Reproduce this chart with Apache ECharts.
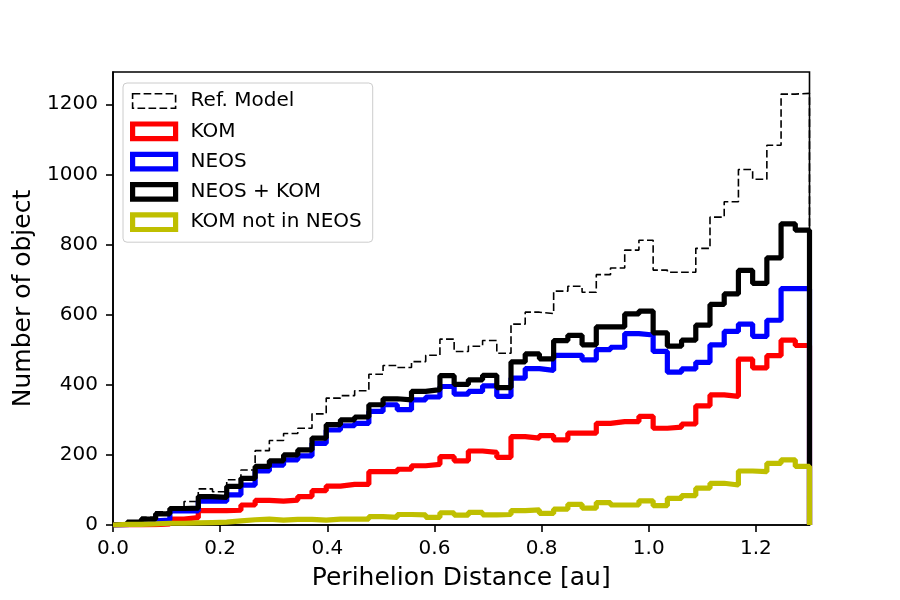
<!DOCTYPE html>
<html>
<head>
<meta charset="utf-8">
<script src="https://cdn.jsdelivr.net/npm/echarts@6/dist/echarts.min.js"></script>
<style>
  html, body { margin: 0; padding: 0; background: #fff; }
  #m1 { width: 900px; height: 600px; }
</style>
</head>
<body>
<div id="m1"></div>
<script>
// 49 bins between 0 and 1.3 au
var qMax = 1.3;
var binCount = 49;
var xTicks = [0, 0.2, 0.4, 0.6, 0.8, 1.0, 1.2];
var yTicks = [0, 200, 400, 600, 800, 1000, 1200];

var refModel = [2, 8, 22, 38, 50, 67, 103, 95, 129, 157, 212, 241, 261, 276, 317, 362, 369, 383, 430, 455,
    449, 466, 484, 530, 495, 510, 526, 490, 573, 607, 603, 667, 681, 664, 714, 733, 784, 812, 727, 721,
    721, 789, 878, 922, 1014, 986, 1083, 1229, 1231];
var kom = [0, 0, 1, 3, 17, 21, 41, 41, 42, 57, 70, 68, 71, 81, 98, 111, 116, 116, 152, 152,
    159, 169, 173, 195, 183, 211, 207, 193, 252, 248, 255, 243, 262, 262, 290, 295, 295, 310, 276, 279,
    288, 340, 371, 367, 473, 448, 483, 527, 512];
var neos = [1, 5, 12, 14, 40, 40, 68, 68, 86, 114, 154, 171, 186, 197, 233, 271, 283, 290, 324, 343,
    329, 357, 365, 395, 373, 381, 397, 367, 419, 446, 441, 484, 484, 471, 500, 507, 546, 542, 495, 436,
    445, 464, 514, 552, 573, 538, 584, 674, 674];
var neosKom = [2, 8, 17, 32, 47, 48, 81, 79, 110, 133, 167, 183, 200, 214, 248, 286, 300, 308, 343, 360,
    357, 381, 386, 426, 401, 414, 427, 392, 465, 488, 474, 526, 541, 514, 565, 565, 602, 610, 548, 510,
    527, 570, 629, 659, 726, 689, 762, 859, 841];
var komNotNeos = [2, 2, 3, 5, 5, 6, 7, 8, 12, 15, 17, 14, 16, 16, 14, 17, 17, 17, 24, 22,
    30, 29, 22, 35, 28, 36, 29, 30, 41, 43, 33, 45, 59, 48, 64, 57, 57, 69, 55, 76,
    84, 105, 119, 114, 154, 152, 176, 186, 167];

var font = 'DejaVu Sans';

// outline of a step histogram: [x, y] points for step:'end'
function stepPoints(vals) {
    var w = qMax / binCount;
    var pts = [[0, 0]];
    for (var i = 0; i < vals.length; i++) {
        pts.push([i * w, vals[i]]);
    }
    pts.push([qMax, vals[vals.length - 1]]);
    pts.push([qMax, 0]);
    return pts;
}

function histSeries(name, vals, color, width, dash) {
    return {
        name: name,
        type: 'line',
        step: 'end',
        symbol: 'none',
        data: stepPoints(vals),
        lineStyle: { color: color, width: width, type: dash || 'solid' },
        itemStyle: { color: color },
        emphasis: { disabled: true }
    };
}

function legendItem(name, color, width, dash) {
    return {
        name: name,
        icon: 'rect',
        itemStyle: { color: 'rgba(0,0,0,0)', borderColor: color, borderWidth: width, borderType: dash || 'solid' }
    };
}

var myChart = echarts.init(document.getElementById('m1'));
var option = {
    animation: false,
    backgroundColor: '#fff',
    grid: {
        left: 113, right: 90.5, top: 72, bottom: 75,
        outerBoundsMode: 'none',
        show: true, borderColor: '#000', borderWidth: 1.6, backgroundColor: 'rgba(0,0,0,0)'
    },
    legend: {
        orient: 'vertical',
        left: 123, top: 83,
        itemWidth: 43, itemHeight: 14.6, itemGap: 10.3,
        padding: [8, 11, 10, 7],
        backgroundColor: 'rgba(255,255,255,0.8)',
        borderColor: '#cccccc', borderWidth: 1, borderRadius: 4,
        selectedMode: false,
        textStyle: { fontFamily: font, fontSize: 20, color: '#000', lineHeight: 20, padding: [0, 0, 0, 10] },
        data: [
            legendItem('Ref. Model', '#000', 1.6, [7.7, 3.3]),
            legendItem('KOM', '#ff0000', 5.2),
            legendItem('NEOS', '#0000ff', 5.2),
            legendItem('NEOS + KOM', '#000000', 5.2),
            legendItem('KOM not in NEOS', '#bfbf00', 5.2)
        ]
    },
    xAxis: {
        type: 'value', min: 0, max: qMax,
        name: 'Perihelion Distance [au]', nameLocation: 'middle', nameGap: 41,
        nameTextStyle: { fontFamily: font, fontSize: 25, color: '#000' },
        axisLine: { show: true, lineStyle: { color: '#000', width: 1.6 } },
        axisTick: { show: true, length: 7, lineStyle: { color: '#000', width: 1.6 }, customValues: xTicks },
        axisLabel: {
            fontFamily: font, fontSize: 20, color: '#000', margin: 14, customValues: xTicks,
            formatter: function (v) { return v.toFixed(1); }
        },
        splitLine: { show: false }
    },
    yAxis: {
        type: 'value', min: 0, max: 1292,
        name: 'Number of object', nameLocation: 'middle', nameGap: 77,
        nameTextStyle: { fontFamily: font, fontSize: 25, color: '#000' },
        axisLine: { show: true, lineStyle: { color: '#000', width: 1.6 } },
        axisTick: { show: true, length: 7, lineStyle: { color: '#000', width: 1.6 }, customValues: yTicks },
        axisLabel: {
            fontFamily: font, fontSize: 20, color: '#000', margin: 15, customValues: yTicks,
            formatter: function (v) { return String(v); }
        },
        splitLine: { show: false }
    },
    series: [
        histSeries('Ref. Model', refModel, '#000', 1.6, [7.7, 3.3]),
        histSeries('KOM', kom, '#ff0000', 5.2),
        histSeries('NEOS', neos, '#0000ff', 5.2),
        histSeries('NEOS + KOM', neosKom, '#000000', 5.2),
        histSeries('KOM not in NEOS', komNotNeos, '#bfbf00', 5.2)
    ]
};
myChart.setOption(option);
</script>
</body>
</html>
